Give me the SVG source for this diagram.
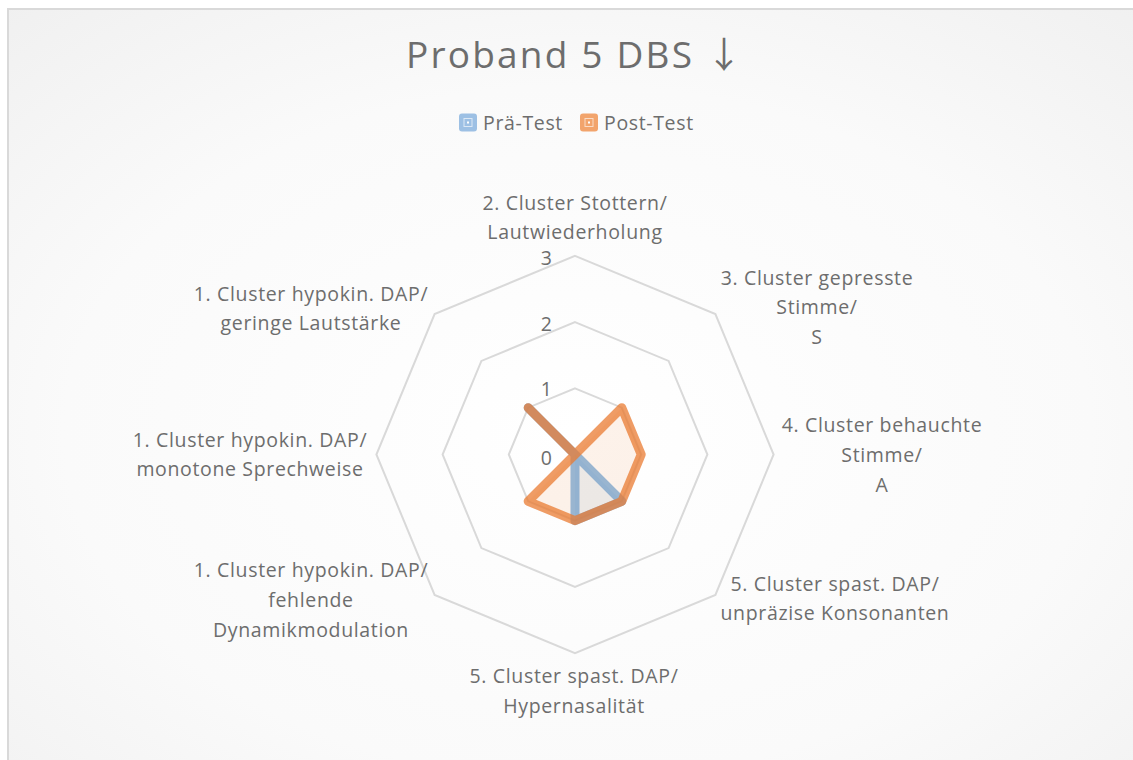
<svg xmlns="http://www.w3.org/2000/svg" width="1133" height="760" viewBox="0 0 1133 760">
<defs>
<radialGradient id="bg" cx="50%" cy="55%" r="75%">
<stop offset="0" stop-color="#ffffff"/>
<stop offset="0.6" stop-color="#fafafa"/>
<stop offset="1" stop-color="#f0f0f0"/>
</radialGradient>
<style>
text{font-family:"Open Sans","Noto Sans","Liberation Sans",sans-serif;fill:#6d6d6d;}
.lab{font-size:19.5px;letter-spacing:0.65px;text-anchor:middle;}
.val{font-size:19.5px;text-anchor:end;}
.grid{fill:none;stroke:#d9d9d9;stroke-width:2;}
.ser{stroke-width:9;stroke-linejoin:round;stroke-linecap:round;}
</style>
</defs>
<rect x="0" y="0" width="1133" height="760" fill="#ffffff"/>
<rect x="8" y="9" width="1140" height="770" fill="url(#bg)" stroke="#d9d9d9" stroke-width="2"/>
<g id="title">
<text x="574" y="68" style="font-size:37px;letter-spacing:2.2px;text-anchor:middle;">Proband 5 DBS <tspan style="font-family:'Noto Sans CJK JP','DejaVu Sans',sans-serif;font-size:36px;letter-spacing:0;">↓</tspan></text>
</g>
<g id="legend">
<g id="legend-pre">
<rect x="459" y="113.5" width="18" height="18" rx="3" fill="#9dc0e4"/>
<rect x="464" y="118.5" width="8" height="8" fill="none" stroke="#dce8f5" stroke-width="1"/>
<rect x="467" y="121.5" width="2" height="2" fill="#ffffff"/>
<text x="483" y="129.5" style="font-size:19.5px;letter-spacing:0.65px;">Prä-Test</text>
</g>
<g id="legend-post">
<rect x="580" y="113.5" width="18" height="18" rx="3" fill="#f2a46c"/>
<rect x="585" y="118.5" width="8" height="8" fill="none" stroke="#fadcc6" stroke-width="1"/>
<rect x="588" y="121.5" width="2" height="2" fill="#ffffff"/>
<text x="604" y="129.5" style="font-size:19.5px;letter-spacing:0.65px;">Post-Test</text>
</g>
</g>
<g id="gridlines">
<polygon class="grid" points="575,388.3 621.8,407.7 641.2,454.5 621.8,501.3 575,520.7 528.2,501.3 508.8,454.5 528.2,407.7"/>
<polygon class="grid" points="575,322.1 668.6,360.9 707.4,454.5 668.6,548.1 575,586.9 481.4,548.1 442.6,454.5 481.4,360.9"/>
<polygon class="grid" points="575,255.9 715.4,314.1 773.6,454.5 715.4,594.9 575,653.1 434.6,594.9 376.4,454.5 434.6,314.1"/>
</g>
<g id="axis-values">
<text class="val" x="552" y="265">3</text>
<text class="val" x="552" y="331">2</text>
<text class="val" x="552" y="396">1</text>
<text class="val" x="552" y="465">0</text>
</g>
<g id="series-pre">
<polygon class="ser" points="575,454.5 575,454.5 575,454.5 621.8,501.3 575,520.7 575,454.5 575,454.5 528.2,407.7" fill="#5b9bd5" fill-opacity="0.1" stroke="#5b9bd5" stroke-opacity="0.68"/>
</g>
<g id="series-post">
<polygon class="ser" points="575,454.5 621.8,407.7 641.2,454.5 621.8,501.3 575,520.7 528.2,501.3 575,454.5 528.2,407.7" fill="#ed7d31" fill-opacity="0.1" stroke="#e97a2f" stroke-opacity="0.74"/>
</g>
<g id="axis-labels">
<g id="label-top"><text class="lab" x="575" y="210">2. Cluster Stottern/</text><text class="lab" x="575" y="239">Lautwiederholung</text></g>
<g id="label-ur"><text class="lab" x="817" y="285">3. Cluster gepresste</text><text class="lab" x="817" y="314">Stimme/</text><text class="lab" x="817" y="344">S</text></g>
<g id="label-r"><text class="lab" x="882" y="432">4. Cluster behauchte</text><text class="lab" x="882" y="462">Stimme/</text><text class="lab" x="882" y="492">A</text></g>
<g id="label-lr"><text class="lab" x="835" y="591">5. Cluster spast. DAP/</text><text class="lab" x="835" y="620">unpräzise Konsonanten</text></g>
<g id="label-b"><text class="lab" x="574" y="683">5. Cluster spast. DAP/</text><text class="lab" x="574" y="713">Hypernasalität</text></g>
<g id="label-ll"><text class="lab" x="311" y="577">1. Cluster hypokin. DAP/</text><text class="lab" x="311" y="607">fehlende</text><text class="lab" x="311" y="637">Dynamikmodulation</text></g>
<g id="label-l"><text class="lab" x="250" y="447">1. Cluster hypokin. DAP/</text><text class="lab" x="250" y="476">monotone Sprechweise</text></g>
<g id="label-ul"><text class="lab" x="311" y="301">1. Cluster hypokin. DAP/</text><text class="lab" x="311" y="330">geringe Lautstärke</text></g>
</g>
</svg>
